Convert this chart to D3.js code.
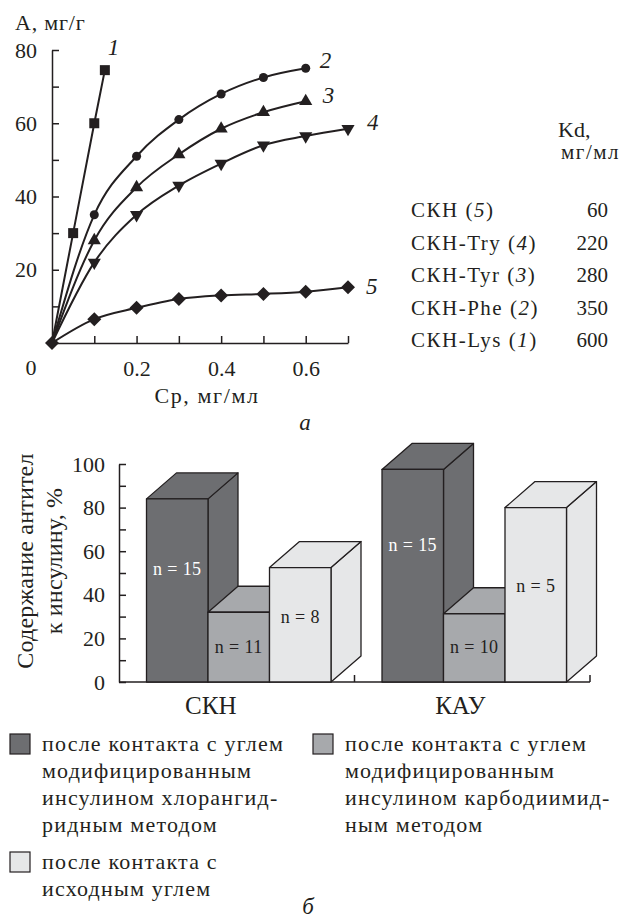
<!DOCTYPE html>
<html>
<head>
<meta charset="utf-8">
<script src="https://cdn.jsdelivr.net/npm/d3@7"></script>
<style>
  body { margin: 0; background: #fff; }
  svg text { font-family: "Liberation Serif", "DejaVu Serif", serif; fill: #231f20; }
</style>
</head>
<body>
<div id="fig"></div>
<script>
// ---- data, panel a: sorption isotherms ----
var cp1 = [0, 0.05, 0.1, 0.125]
var a1  = [0, 30, 60, 74.5]
var cp2 = [0, 0.1, 0.2, 0.3, 0.4, 0.5, 0.6]
var a2  = [0, 35, 51, 61, 68, 72.5, 75]
var cp3 = [0, 0.1, 0.2, 0.3, 0.4, 0.5, 0.6]
var a3  = [0, 28, 42.5, 51.5, 58.5, 63, 66]
var cp4 = [0, 0.1, 0.2, 0.3, 0.4, 0.5, 0.6, 0.7]
var a4  = [0, 22, 35, 43, 49, 54, 56.5, 58.5]
var cp5 = [0, 0.1, 0.2, 0.3, 0.4, 0.5, 0.6, 0.7]
var a5  = [0, 6.5, 9.6, 12, 13, 13.4, 14, 15.2]

// table of dissociation constants
var sorbents = ["СКН", "СКН-Try", "СКН-Tyr", "СКН-Phe", "СКН-Lys"]
var sorbentCurve = ["5", "4", "3", "2", "1"]
var kd = [60, 220, 280, 350, 600]

// ---- data, panel b: antibodies to insulin ----
var groups = ["СКН", "КАУ"]
var skn = [84, 32, 52.5]
var kau = [97.5, 31.3, 80]
var nSkn = [15, 11, 8]
var nKau = [15, 10, 5]
var nLabelSkn = [52, 16, 30]   // level (in %) where the n label sits
var nLabelKau = [63, 16, 44]
var legendLines = [
  ["после контакта с углем", "модифицированным", "инсулином хлорангид-", "ридным методом"],
  ["после контакта с углем", "модифицированным", "инсулином карбодиимид-", "ным методом"],
  ["после контакта с", "исходным углем"]
]

var width = 621, height = 919
var ink = "#231f20"
var serif = '"Liberation Serif", "DejaVu Serif", serif'

var svg = d3.select("#fig").append("svg")
    .attr("width", width)
    .attr("height", height)

// ======================= panel a =======================
var x = d3.scaleLinear().domain([0, 0.7]).range([52, 348])
var y = d3.scaleLinear().domain([0, 80]).range([343, 50])

var yAx = svg.append("g")
    .attr("transform", "translate(" + x(0) + ",0)")
    .call(d3.axisLeft(y).tickValues(d3.range(10, 81, 10)).tickSizeInner(-7).tickSizeOuter(0)
          .tickPadding(15).tickFormat(function(d){ return d % 20 === 0 ? d : "" }))
var xAx = svg.append("g")
    .attr("transform", "translate(0," + y(0) + ")")
    .call(d3.axisBottom(x).tickValues(d3.range(1, 8).map(function(i){ return i / 10 }))
          .tickSizeInner(-7).tickSizeOuter(0).tickPadding(17)
          .tickFormat(function(d){ return Math.round(d * 10) % 2 === 0 ? d : "" }))
;[yAx, xAx].forEach(function(g){
  g.attr("font-family", serif).attr("font-size", 22)
  g.selectAll("path, line").attr("stroke", ink).attr("stroke-width", 1.5)
  g.selectAll("text").attr("fill", ink)
})

svg.append("text").attr("x", 31).attr("y", 375).attr("text-anchor", "middle")
    .attr("font-size", 22).text("0")
svg.append("text").attr("x", 15).attr("y", 30).attr("font-size", 22)
    .attr("letter-spacing", 0.8).text("A, мг/г")
svg.append("text").attr("x", 207).attr("y", 403).attr("text-anchor", "middle")
    .attr("font-size", 22).attr("letter-spacing", 1.6).text("Cp, мг/мл")
svg.append("text").attr("x", 305).attr("y", 430).attr("text-anchor", "middle")
    .attr("font-size", 23).attr("font-style", "italic").text("a")

var curves = [
  {id: "1", cp: cp1, a: a1, sym: d3.symbolSquare,   size: 100, rot: 0,   lx: 3,  ly: -15},
  {id: "2", cp: cp2, a: a2, sym: d3.symbolCircle,   size: 64,  rot: 0,   lx: 14, ly: 0},
  {id: "3", cp: cp3, a: a3, sym: d3.symbolTriangle, size: 75,  rot: 0,   lx: 17, ly: 2},
  {id: "4", cp: cp4, a: a4, sym: d3.symbolTriangle, size: 75,  rot: 180, lx: 19, ly: 1},
  {id: "5", cp: cp5, a: a5, sym: d3.symbolDiamond2, size: 125, rot: 0,   lx: 18, ly: 7}
]

var line = d3.line()
    .x(function(d){ return x(d[0]) })
    .y(function(d){ return y(d[1]) })
    .curve(d3.curveMonotoneX)

curves.forEach(function(c){
  var pts = c.cp.map(function(v, i){ return [v, c.a[i]] })
  svg.append("path")
      .attr("d", line(pts))
      .attr("fill", "none")
      .attr("stroke", ink)
      .attr("stroke-width", 2)
  // origin is shared, only curve 5 shows its marker there
  svg.selectAll(null)
      .data(pts.filter(function(p){ return p[0] > 0 || c.id === "5" }))
      .enter()
      .append("path")
      .attr("d", d3.symbol().type(c.sym).size(c.size))
      .attr("transform", function(d){ return "translate(" + x(d[0]) + "," + y(d[1]) + ") rotate(" + c.rot + ")" })
      .attr("fill", ink)
  var last = pts[pts.length - 1]
  svg.append("text")
      .attr("x", x(last[0]) + c.lx)
      .attr("y", y(last[1]) + c.ly)
      .attr("font-size", 23)
      .attr("font-style", "italic")
      .text(c.id)
})

// Kd table
svg.append("text").attr("x", 558).attr("y", 137).attr("font-size", 22).text("Kd,")
svg.append("text").attr("x", 620).attr("y", 159).attr("text-anchor", "end").attr("font-size", 21)
    .attr("letter-spacing", 1.5).text("мг/мл")
var rows = svg.selectAll(".row")
    .data(sorbents)
    .enter()
    .append("g")
    .attr("class", "row")
    .attr("transform", function(d, i){ return "translate(0," + (217 + i * 32.5) + ")" })
var rowLabel = rows.append("text").attr("x", 411).attr("font-size", 21).attr("letter-spacing", 1.5)
rowLabel.append("tspan").text(function(d){ return d + " (" })
rowLabel.append("tspan").attr("font-style", "italic").text(function(d, i){ return sorbentCurve[i] })
rowLabel.append("tspan").text(")")
rows.append("text")
    .attr("x", 608)
    .attr("text-anchor", "end")
    .attr("font-size", 21)
    .text(function(d, i){ return kd[i] })

// ======================= panel b =======================
var colors = ["#6d6e71", "#a7a9ac", "#e6e7e8"]
var yb = d3.scaleLinear().domain([0, 100]).range([682, 464])
var xb = d3.scaleBand().domain(groups).range([119, 590])
var barW = 61.5, depthX = 30, depthY = -26, inset = 27.5

var ybAx = svg.append("g")
    .attr("transform", "translate(" + xb.range()[0] + ",0)")
    .call(d3.axisLeft(yb).tickValues(d3.range(0, 101, 10)).tickSizeInner(-7).tickSizeOuter(0)
          .tickPadding(14).tickFormat(function(d){ return d % 20 === 0 ? d : "" }))
ybAx.attr("font-family", serif).attr("font-size", 22)
ybAx.selectAll("path, line").attr("stroke", ink).attr("stroke-width", 1.5)
ybAx.selectAll("text").attr("fill", ink)

// baseline with group separators
svg.append("line")
    .attr("x1", xb.range()[0]).attr("x2", xb.range()[1])
    .attr("y1", yb(0)).attr("y2", yb(0))
    .attr("stroke", ink).attr("stroke-width", 1.5)
svg.selectAll(".sep")
    .data([xb("КАУ"), xb.range()[1]])
    .enter()
    .append("line")
    .attr("x1", function(d){ return d }).attr("x2", function(d){ return d })
    .attr("y1", yb(0)).attr("y2", yb(0) - 7)
    .attr("stroke", ink).attr("stroke-width", 1.5)

var barData = []
groups.forEach(function(g, gi){
  var vals = gi === 0 ? skn : kau
  var ns = gi === 0 ? nSkn : nKau
  var lv = gi === 0 ? nLabelSkn : nLabelKau
  vals.forEach(function(v, i){
    barData.push({group: g, k: i, value: v, n: ns[i], at: lv[i]})
  })
})

var bars = svg.selectAll(".bar")
    .data(barData)
    .enter()
    .append("g")
    .attr("class", "bar")
bars.each(function(d){
  var g = d3.select(this)
  var x0 = xb(d.group) + inset + d.k * barW, x1 = x0 + barW
  var yt = yb(d.value), y0 = yb(0)
  g.append("polygon")
      .attr("points", [[x1, yt], [x1 + depthX, yt + depthY], [x1 + depthX, y0 + depthY], [x1, y0]].join(" "))
  g.append("polygon")
      .attr("points", [[x0, yt], [x0 + depthX, yt + depthY], [x1 + depthX, yt + depthY], [x1, yt]].join(" "))
  g.append("rect")
      .attr("x", x0).attr("y", yt).attr("width", barW).attr("height", y0 - yt)
  g.selectAll("polygon, rect")
      .attr("fill", colors[d.k])
      .attr("stroke", ink)
      .attr("stroke-width", 1.3)
      .attr("stroke-linejoin", "round")
  g.append("text")
      .attr("x", x0 + barW / 2)
      .attr("y", yb(d.at))
      .attr("dy", "0.35em")
      .attr("text-anchor", "middle")
      .attr("font-size", 18)
      .attr("letter-spacing", 0.4)
      .style("fill", d.k === 0 ? "#fff" : ink)
      .text("n = " + d.n)
})

svg.selectAll(".cat")
    .data(groups)
    .enter()
    .append("text")
    .attr("x", function(d, i){ return xb(d) + xb.bandwidth() / 2 - (i === 0 ? 26 : 12) })
    .attr("y", 714)
    .attr("text-anchor", "middle")
    .attr("font-size", 25)
    .text(function(d){ return d })

var ytitle = svg.append("g").attr("transform", "translate(0,561) rotate(-90)")
ytitle.append("text").attr("y", 33).attr("text-anchor", "middle").attr("font-size", 24)
    .attr("letter-spacing", 0.2).text("Содержание антител")
ytitle.append("text").attr("y", 62).attr("text-anchor", "middle").attr("font-size", 24)
    .attr("letter-spacing", 0.2).text("к инсулину, %")

// legend
var legendPos = [[10, 734], [313, 734], [10, 852]]
var leg = svg.selectAll(".leg")
    .data(legendLines)
    .enter()
    .append("g")
    .attr("class", "leg")
    .attr("transform", function(d, i){ return "translate(" + legendPos[i][0] + "," + legendPos[i][1] + ")" })
leg.append("rect")
    .attr("width", 20).attr("height", 20)
    .attr("fill", function(d, i){ return colors[i] })
    .attr("stroke", ink).attr("stroke-width", 1.2)
leg.each(function(lines){
  var t = d3.select(this).append("text").attr("x", 32).attr("y", 17)
      .attr("font-size", 22).attr("letter-spacing", 1.2)
  t.selectAll("tspan")
      .data(lines)
      .enter()
      .append("tspan")
      .attr("x", 32)
      .attr("dy", function(d, i){ return i === 0 ? 0 : 27 })
      .text(function(d){ return d })
})

svg.append("text").attr("x", 308).attr("y", 914).attr("text-anchor", "middle")
    .attr("font-size", 23).attr("font-style", "italic").text("б")
</script>
</body>
</html>
